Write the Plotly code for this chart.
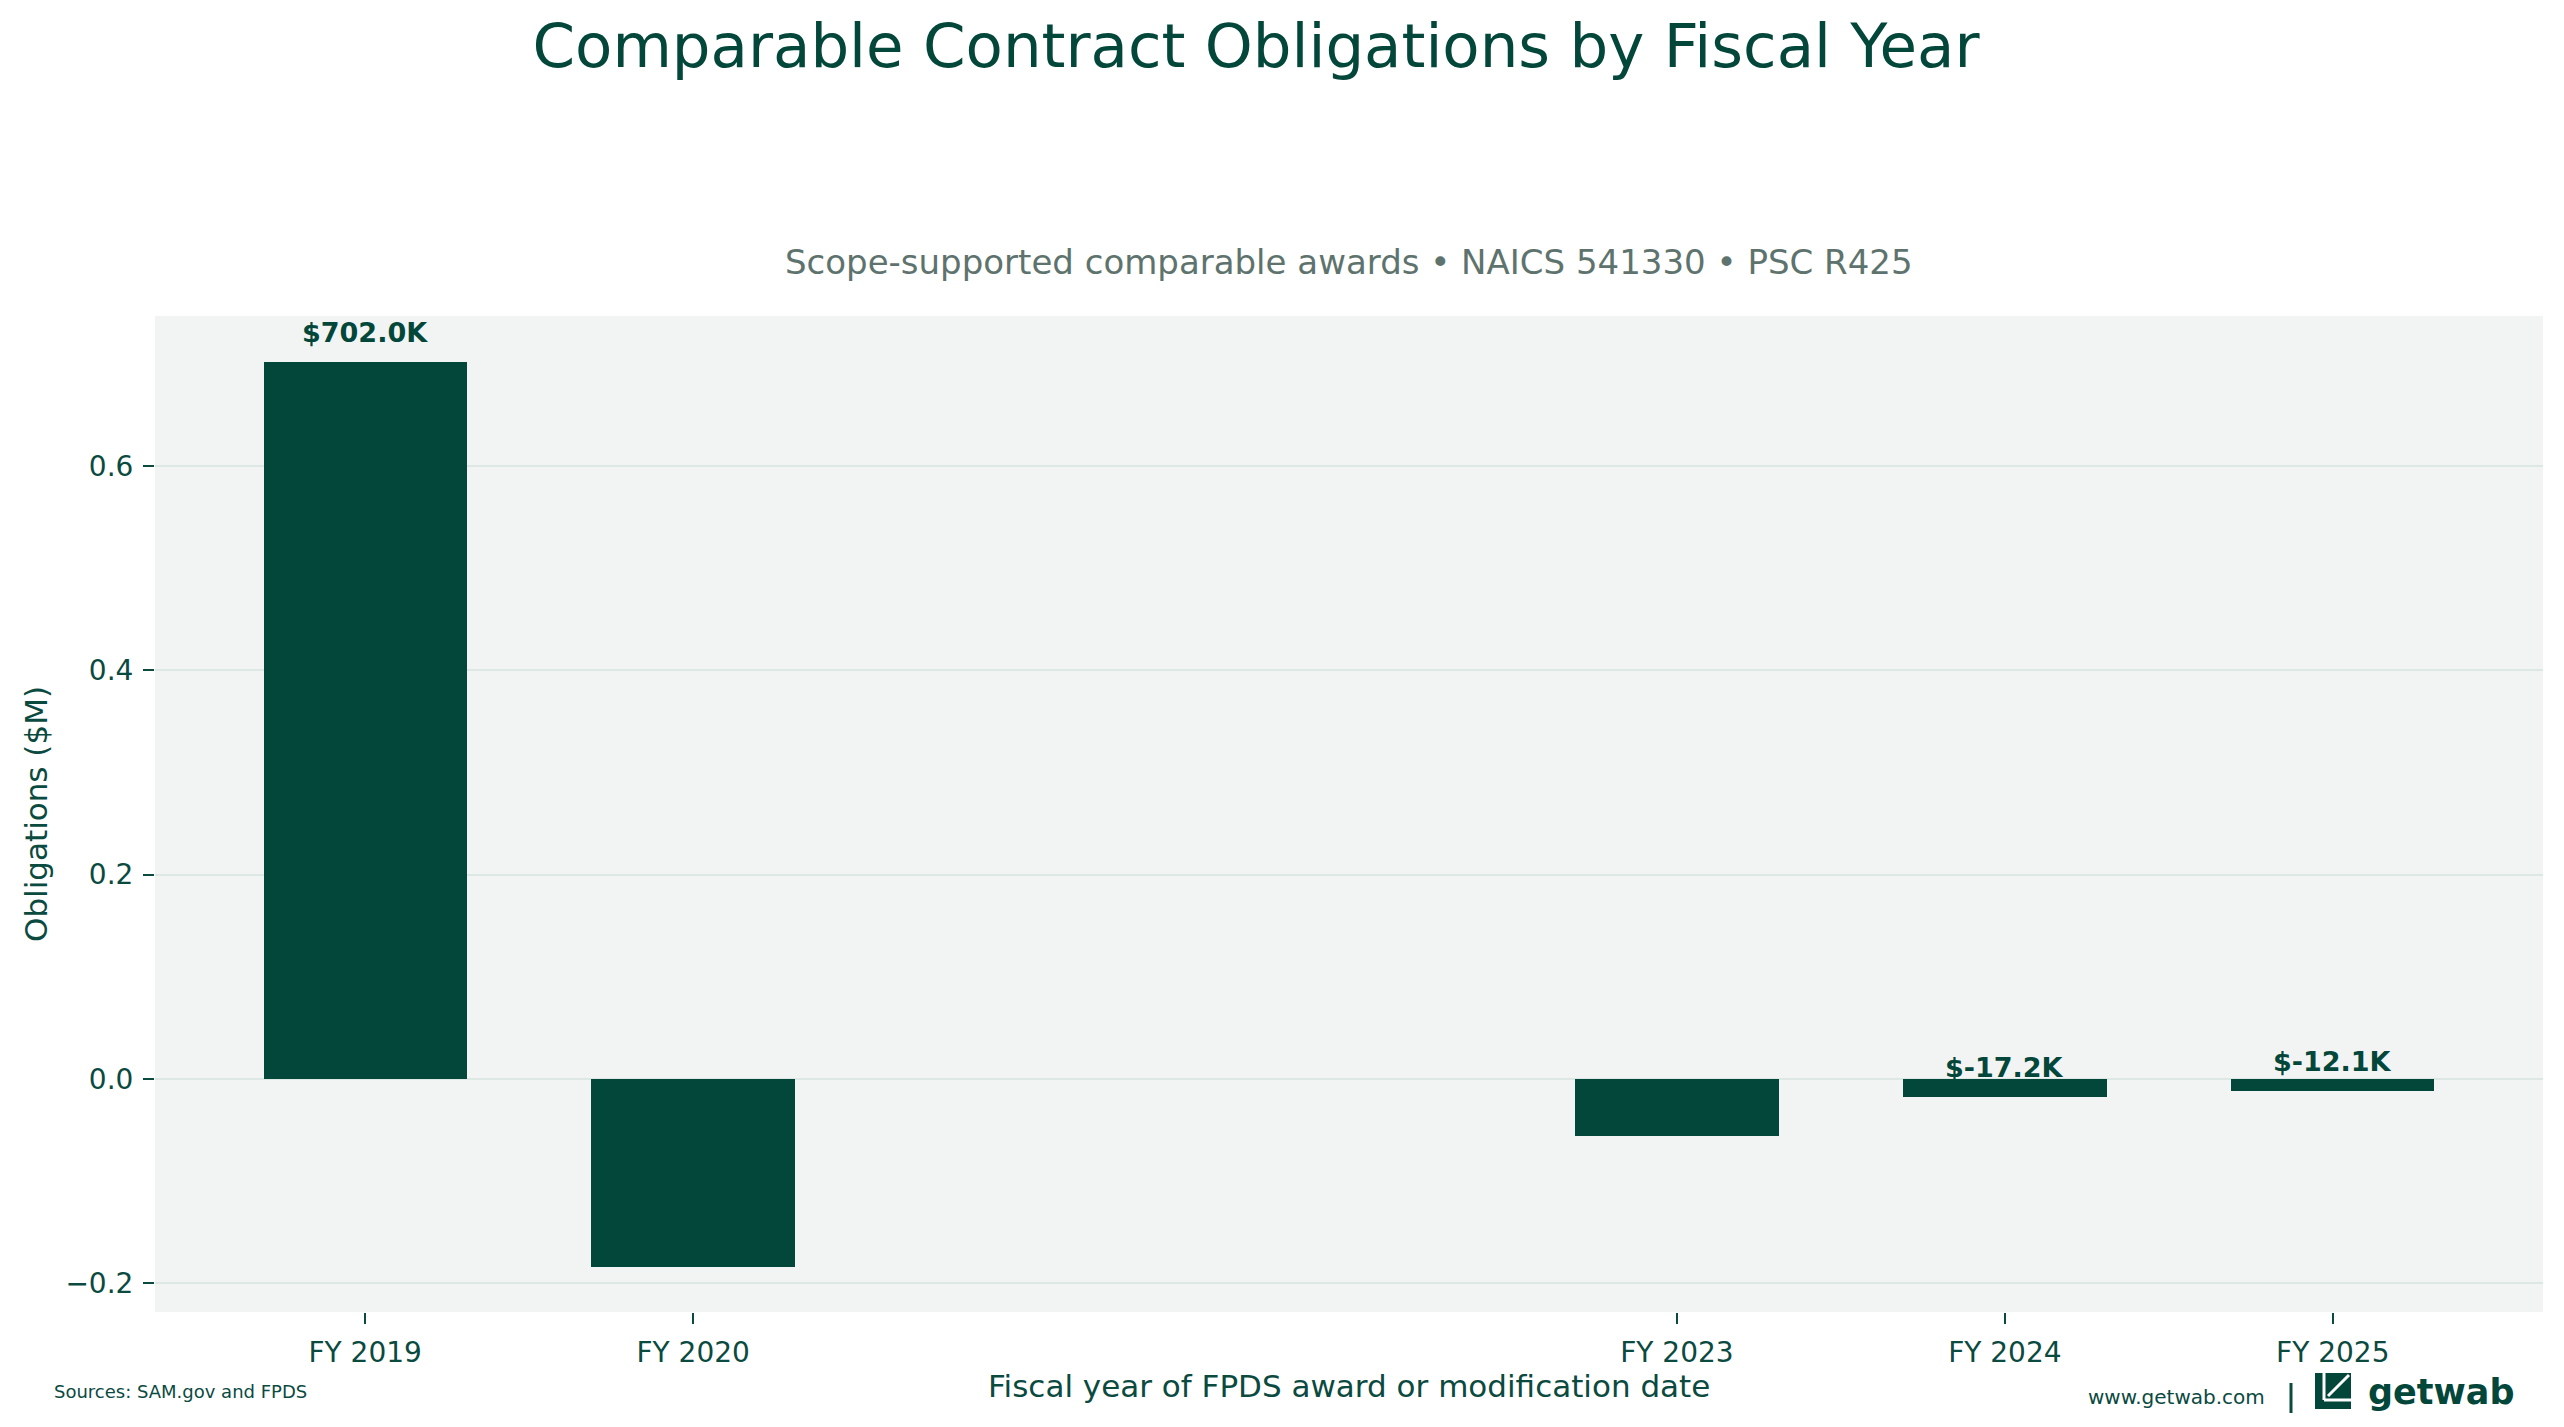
import plotly.graph_objects as go

# ---------------- data ----------------
fiscal_years = [2019, 2020, 2023, 2024, 2025]
tick_labels = ["FY 2019", "FY 2020", "FY 2023", "FY 2024", "FY 2025"]
obligations_musd = [0.702, -0.184, -0.0558, -0.0172, -0.0121]
y_tick_vals = [-0.2, 0.0, 0.2, 0.4, 0.6]
y_tick_text = ["\u22120.2", "0.0", "0.2", "0.4", "0.6"]

TITLE = "Comparable Contract Obligations by Fiscal Year"
SUBTITLE = "Scope-supported comparable awards \u2022 NAICS 541330 \u2022 PSC R425"
X_TITLE = "Fiscal year of FPDS award or modification date"
Y_TITLE = "Obligations ($M)"
SOURCE = "Sources: SAM.gov and FPDS"
SITE = "www.getwab.com"

# ---------------- style ----------------
W, H = 2564, 1427
L, R, T, B = 155, 21, 316, 115
DARK = "#03463a"
TEXT = "#0a4a3f"
SUB = "#5e736d"
BG_PLOT = "#f1f4f3"
GRID = "#dde7e4"
FONT = "DejaVu Sans"

PW = W - L - R
PH = H - T - B


def px(xp):
    return (xp - L) / PW


def py(yp):
    return (H - B - yp) / PH


fig = go.Figure()
fig.add_trace(go.Bar(
    x=fiscal_years,
    y=obligations_musd,
    width=0.62,
    marker=dict(color=DARK, line=dict(width=0)),
    hoverinfo="skip",
))

# value labels (placed just above the bar value; hidden ones fall inside dark bars)
offset = 0.025 * max(obligations_musd)
annotations = []
for xv, v in zip(fiscal_years, obligations_musd):
    if v + offset < 0:
        continue
    annotations.append(dict(
        x=xv, y=v + offset, xref="x", yref="y",
        text=f"<b>${v * 1000:.1f}K</b>", showarrow=False,
        yanchor="bottom", xanchor="center", yshift=-6,
        font=dict(family=FONT, size=27, color=DARK),
    ))

# subtitle (axes title)
annotations.append(dict(
    x=0.5, y=py(262), xref="paper", yref="paper", text=SUBTITLE,
    showarrow=False, xanchor="center", yanchor="middle",
    font=dict(family=FONT, size=34, color=SUB),
))
# axis titles
annotations.append(dict(
    x=0.5, y=py(1386), xref="paper", yref="paper", text=X_TITLE,
    showarrow=False, xanchor="center", yanchor="middle",
    font=dict(family=FONT, size=31, color=TEXT),
))
annotations.append(dict(
    x=px(36), y=0.5, xref="paper", yref="paper", text=Y_TITLE,
    showarrow=False, xanchor="center", yanchor="middle", textangle=-90,
    font=dict(family=FONT, size=31, color=TEXT),
))
# footer
annotations.append(dict(
    x=px(52), y=py(1391), xref="paper", yref="paper", text=SOURCE,
    showarrow=False, xanchor="left", yanchor="middle",
    font=dict(family=FONT, size=18, color=TEXT),
))
annotations.append(dict(
    x=px(2267), y=py(1397), xref="paper", yref="paper", text=SITE,
    showarrow=False, xanchor="right", yanchor="middle",
    font=dict(family=FONT, size=20, color=TEXT),
))
annotations.append(dict(
    x=px(2366), y=py(1392), xref="paper", yref="paper", text="<b>getwab</b>",
    showarrow=False, xanchor="left", yanchor="middle",
    font=dict(family=FONT, size=35, color=DARK),
))

shapes = [
    # separator
    dict(type="line", xref="paper", yref="paper",
         x0=px(2291), x1=px(2291), y0=py(1383), y1=py(1413),
         line=dict(color=TEXT, width=3)),
    # logo icon square
    dict(type="rect", xref="paper", yref="paper",
         x0=px(2315), x1=px(2351), y0=py(1409), y1=py(1373),
         fillcolor=DARK, line=dict(width=0)),
    dict(type="line", xref="paper", yref="paper",
         x0=px(2324), x1=px(2324), y0=py(1373), y1=py(1400),
         line=dict(color="white", width=3)),
    dict(type="line", xref="paper", yref="paper",
         x0=px(2324), x1=px(2351), y0=py(1400), y1=py(1400),
         line=dict(color="white", width=3)),
    dict(type="line", xref="paper", yref="paper",
         x0=px(2349), x1=px(2328), y0=py(1375), y1=py(1396),
         line=dict(color="white", width=3)),
]

fig.update_layout(
    width=W, height=H,
    margin=dict(l=L, r=R, t=T, b=B, pad=0),
    paper_bgcolor="white",
    plot_bgcolor=BG_PLOT,
    showlegend=False,
    bargap=0,
    title=dict(
        text=TITLE, x=1256 / W, xref="container",
        y=1 - 46 / H, yref="container", xanchor="center", yanchor="middle",
        font=dict(family=FONT, size=61, color=DARK),
    ),
    font=dict(family=FONT, color=TEXT),
    annotations=annotations,
    shapes=shapes,
)

fig.update_xaxes(
    range=[2018.359, 2025.641],
    tickmode="array", tickvals=fiscal_years, ticktext=tick_labels,
    ticks="outside", ticklen=11, tickwidth=2, tickcolor=TEXT,
    tickfont=dict(family=FONT, size=28, color=TEXT),
    showgrid=False, zeroline=False, showline=False,
    ticklabelstandoff=4,
)
fig.update_yaxes(
    range=[-0.228, 0.7466],
    tickmode="array", tickvals=y_tick_vals, ticktext=y_tick_text,
    ticks="outside", ticklen=11, tickwidth=2, tickcolor=TEXT,
    tickfont=dict(family=FONT, size=28, color=TEXT),
    showgrid=True, gridcolor=GRID, gridwidth=2,
    zeroline=False, showline=False,
    ticklabelstandoff=4,
)

fig.write_html("out.html")
